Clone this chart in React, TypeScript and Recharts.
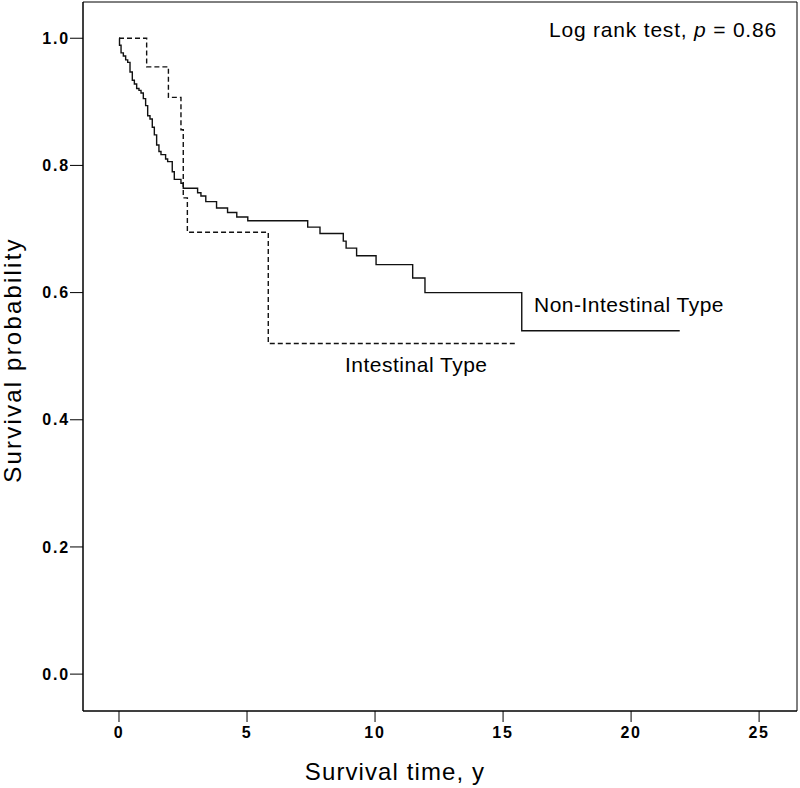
import { LineChart, Line, XAxis, YAxis, ReferenceArea } from "recharts";

// Kaplan-Meier step points (time in years, survival probability)
const nonIntestinalTime = [
  0, 0.02, 0.08, 0.17, 0.26, 0.34, 0.43, 0.52, 0.6, 0.69, 0.78, 0.86, 0.95,
  1.04, 1.12, 1.21, 1.3, 1.38, 1.47, 1.56, 1.64, 1.82, 1.9, 2.08, 2.16, 2.42,
  2.51, 3.07, 3.2, 3.39, 3.81, 4.24, 4.6, 5.03, 7.37, 7.85, 8.76, 8.87, 9.28,
  10.04, 11.47, 11.95, 15.73, 21.9,
];
const nonIntestinalSurv = [
  1.0, 0.989, 0.977, 0.972, 0.966, 0.962, 0.947, 0.934, 0.928, 0.921, 0.918,
  0.914, 0.905, 0.894, 0.878, 0.873, 0.86, 0.848, 0.832, 0.822, 0.817, 0.81,
  0.806, 0.79, 0.778, 0.772, 0.764, 0.757, 0.752, 0.743, 0.733, 0.726, 0.719,
  0.713, 0.703, 0.693, 0.681, 0.67, 0.658, 0.644, 0.623, 0.6, 0.54, 0.54,
];

const intestinalTime = [0, 1.08, 1.93, 2.42, 2.51, 2.67, 5.83, 15.47];
const intestinalSurv = [1.0, 0.955, 0.907, 0.856, 0.749, 0.695, 0.52, 0.52];

const xTicks = [0, 5, 10, 15, 20, 25];
const yTicks = [0, 0.2, 0.4, 0.6, 0.8, 1.0];

const X_DOMAIN: [number, number] = [-1.406, 26.48];
const Y_DOMAIN: [number, number] = [-0.058, 1.057];

const nonIntestinal = nonIntestinalTime.map((t, i) => ({ t, s: nonIntestinalSurv[i] }));
const intestinal = intestinalTime.map((t, i) => ({ t, s: intestinalSurv[i] }));

const tickStyle = {
  fontFamily: "Arial, 'Liberation Sans', sans-serif",
  fontSize: 16,
  fontWeight: "bold",
  letterSpacing: 1.8,
  fill: "#000",
};

const labelFont = "Arial, 'Liberation Sans', sans-serif";

export default function App() {
  return (
    <div style={{ position: "absolute", left: 0, top: 0, width: 800, height: 788, background: "#fff" }}>
      <LineChart
        width={800}
        height={788}
        margin={{ top: 2, right: 3, bottom: 0, left: 0 }}
      >
        <XAxis
          dataKey="t"
          type="number"
          domain={X_DOMAIN}
          allowDataOverflow
          ticks={xTicks}
          height={77}
          tickSize={11}
          tickMargin={5}
          stroke="#000"
          tick={tickStyle}
        />
        <YAxis
          type="number"
          domain={Y_DOMAIN}
          allowDataOverflow
          ticks={yTicks}
          width={83}
          tickSize={13}
          tickMargin={0}
          stroke="#000"
          tick={tickStyle}
          tickFormatter={(v: number) => v.toFixed(1)}
        />
        <ReferenceArea
          x1={X_DOMAIN[0]}
          x2={X_DOMAIN[1]}
          y1={Y_DOMAIN[0]}
          y2={Y_DOMAIN[1]}
          fill="none"
          stroke="#000"
          strokeWidth={1}
        />
        <Line
          data={nonIntestinal}
          dataKey="s"
          type="stepAfter"
          stroke="#111"
          strokeWidth={1.4}
          dot={false}
          isAnimationActive={false}
        />
        <Line
          data={intestinal}
          dataKey="s"
          type="stepAfter"
          stroke="#111"
          strokeWidth={1.4}
          strokeDasharray="5 3"
          dot={false}
          isAnimationActive={false}
        />
      </LineChart>
      <svg
        width={800}
        height={788}
        style={{ position: "absolute", left: 0, top: 0, pointerEvents: "none" }}
      >
        <text x={549} y={37} fontFamily={labelFont} fontSize={21} letterSpacing={0.8} fill="#000">
          Log rank test, <tspan fontStyle="italic">p</tspan> = 0.86
        </text>
        <text x={534} y={312} fontFamily={labelFont} fontSize={21} letterSpacing={0.5} fill="#000">
          Non-Intestinal Type
        </text>
        <text x={345} y={372} fontFamily={labelFont} fontSize={21} letterSpacing={0.5} fill="#000">
          Intestinal Type
        </text>
        <text x={395} y={780} textAnchor="middle" fontFamily={labelFont} fontSize={24} letterSpacing={1.1} fill="#000">
          Survival time, y
        </text>
        <text
          x={-360}
          y={21}
          transform="rotate(-90)"
          textAnchor="middle"
          fontFamily={labelFont}
          fontSize={24}
          letterSpacing={2.2}
          fill="#000"
        >
          Survival probability
        </text>
      </svg>
    </div>
  );
}
